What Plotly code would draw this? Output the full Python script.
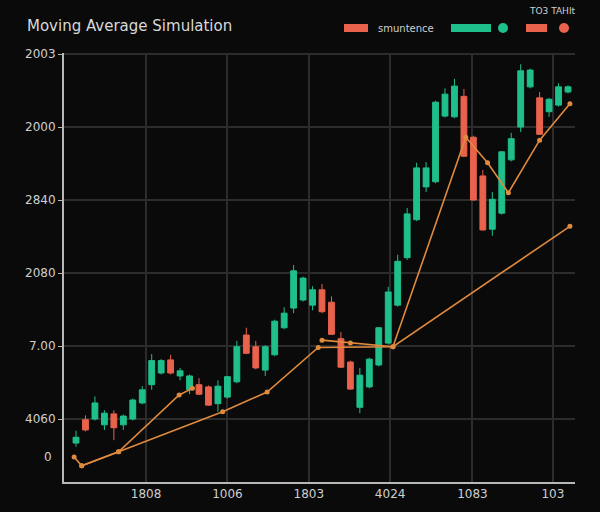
import plotly.graph_objects as go

# ---------------- data ----------------
sessions = list(range(53))
opens = [67, 99, 100, 92, 107, 92, 100, 122, 147, 163, 181, 159, 140, 147, 144, 121, 130, 151, 215, 199,
         167, 188, 225, 252, 263, 256, 277, 260, 210, 178, 116, 144, 174, 204, 256, 321, 373, 418, 425, 515,
         514, 542, 486, 433, 360, 382, 455, 500, 555, 540, 521, 530, 548]
highs = [84, 105, 131, 112, 112, 106, 128, 145, 189, 182, 188, 170, 161, 156, 146, 153, 159, 207, 225, 207,
         201, 236, 253, 311, 295, 282, 285, 268, 219, 180, 170, 184, 226, 281, 325, 389, 451, 452, 536, 553,
         566, 552, 488, 441, 411, 467, 492, 586, 580, 548, 540, 560, 557]
lows = [62, 83, 98, 85, 71, 85, 98, 120, 140, 161, 161, 153, 134, 133, 118, 110, 128, 149, 189, 168,
        159, 186, 223, 245, 261, 249, 245, 215, 170, 140, 108, 142, 172, 202, 254, 318, 371, 411, 423, 513,
        512, 459, 399, 358, 351, 380, 453, 493, 553, 489, 514, 528, 546]
closes = [75, 85, 122, 108, 88, 104, 126, 140, 180, 180, 163, 166, 159, 134, 119, 145, 158, 199, 190, 170,
          199, 234, 245, 303, 293, 277, 247, 216, 171, 141, 160, 182, 225, 274, 316, 381, 444, 444, 534, 545,
          556, 460, 400, 359, 401, 466, 484, 577, 578, 490, 538, 555, 555]

fast_x = [-0.2, 0.6, 4.5, 10.9, 12.3, None, 26.0, 29.0, 33.5, 41.2, 43.5, 45.7, 49.0, 52.2]
fast_y = [48, 36, 55, 133, 142, None, 208, 204, 199, 486, 451, 410, 482, 532]

slow_x = [0.6, 4.5, 15.5, 20.2, 25.6, 33.5, 52.2]
slow_y = [36, 55, 110, 137, 198, 199, 364]

x_tickvals = [7.4, 16.0, 24.6, 33.2, 41.9, 50.4]
x_ticktext = ["1808", "1006", "1803", "4024", "1083", "103"]
y_tickvals = [100, 200, 300, 400, 500, 600]
y_ticktext = ["4060", "7.00", "2080", "2840", "2000", "2003"]

title_text = "Moving Average Simulation"
legend_text = "smuntence"
corner_text = "TO3 TAHIt"

GREEN = "#1fbf8c"
RED = "#e8624c"
ORANGE = "#e08a3e"
BG = "#0a0a0a"
FONT = "DejaVu Sans"

fig = go.Figure()
fig.add_trace(go.Candlestick(
    x=sessions, open=opens, high=highs, low=lows, close=closes,
    increasing=dict(line=dict(color=GREEN, width=1), fillcolor=GREEN),
    decreasing=dict(line=dict(color=RED, width=1), fillcolor=RED),
    whiskerwidth=0, showlegend=False,
))
fig.add_trace(go.Scatter(
    x=slow_x, y=slow_y, mode="lines+markers",
    line=dict(color=ORANGE, width=1.6), marker=dict(color=ORANGE, size=5),
    showlegend=False, connectgaps=False,
))
fig.add_trace(go.Scatter(
    x=fast_x, y=fast_y, mode="lines+markers",
    line=dict(color=ORANGE, width=1.6), marker=dict(color=ORANGE, size=5),
    showlegend=False, connectgaps=False,
))

def px_x(p):
    return (p - 64) / 511.0

def px_y(p):
    return (482 - p) / 429.0

shapes = [
    dict(type="rect", xref="paper", yref="paper", x0=px_x(344), x1=px_x(368), y0=px_y(32), y1=px_y(24),
         fillcolor=RED, line=dict(width=0)),
    dict(type="rect", xref="paper", yref="paper", x0=px_x(451), x1=px_x(491), y0=px_y(32), y1=px_y(24),
         fillcolor=GREEN, line=dict(width=0)),
    dict(type="circle", xref="paper", yref="paper", x0=px_x(498), x1=px_x(508), y0=px_y(33), y1=px_y(23),
         fillcolor=GREEN, line=dict(width=0)),
    dict(type="rect", xref="paper", yref="paper", x0=px_x(526), x1=px_x(547), y0=px_y(32), y1=px_y(24),
         fillcolor=RED, line=dict(width=0)),
    dict(type="circle", xref="paper", yref="paper", x0=px_x(559), x1=px_x(569), y0=px_y(33), y1=px_y(23),
         fillcolor=RED, line=dict(width=0)),
]

annotations = [
    dict(text=legend_text, xref="paper", yref="paper", x=px_x(376), y=px_y(28), xanchor="left",
         yanchor="middle", showarrow=False, font=dict(family=FONT, size=10, color="#cfcfcf")),
    dict(text=corner_text, xref="paper", yref="paper", x=px_x(527), y=px_y(11), xanchor="left",
         yanchor="middle", showarrow=False, font=dict(family=FONT, size=9, color="#cfcfcf")),
    dict(text="0", xref="paper", yref="y", x=px_x(54), y=48, xanchor="right", yanchor="middle",
         showarrow=False, font=dict(family=FONT, size=12, color="#cfcfcf")),
]

fig.update_layout(
    width=600, height=512,
    margin=dict(l=64, r=25, t=53, b=30),
    paper_bgcolor=BG, plot_bgcolor=BG,
    title=dict(text=title_text, x=27 / 600, xanchor="left", y=1 - 26 / 512, yanchor="middle",
               font=dict(family=FONT, size=15, color="#d8d8d8")),
    font=dict(family=FONT, color="#cfcfcf"),
    showlegend=False,
    boxgap=0.12,
    shapes=shapes,
    annotations=annotations,
    xaxis=dict(range=[-1.27, 52.74], tickvals=x_tickvals, ticktext=x_ticktext,
               showgrid=True, gridcolor="#2c2c2c", gridwidth=1.5, zeroline=False,
               showline=True, linecolor="#b8b8b8", linewidth=2,
               tickfont=dict(family=FONT, size=12, color="#cfcfcf"),
               rangeslider=dict(visible=False), fixedrange=True),
    yaxis=dict(range=[13.7, 601.4], tickvals=y_tickvals, ticktext=y_ticktext,
               showgrid=True, gridcolor="#2c2c2c", gridwidth=1.5, zeroline=False,
               showline=True, linecolor="#b8b8b8", linewidth=2,
               ticks="outside", ticklen=4, tickcolor="#b8b8b8",
               tickfont=dict(family=FONT, size=12, color="#cfcfcf")),
)

fig.write_html("out.html")
